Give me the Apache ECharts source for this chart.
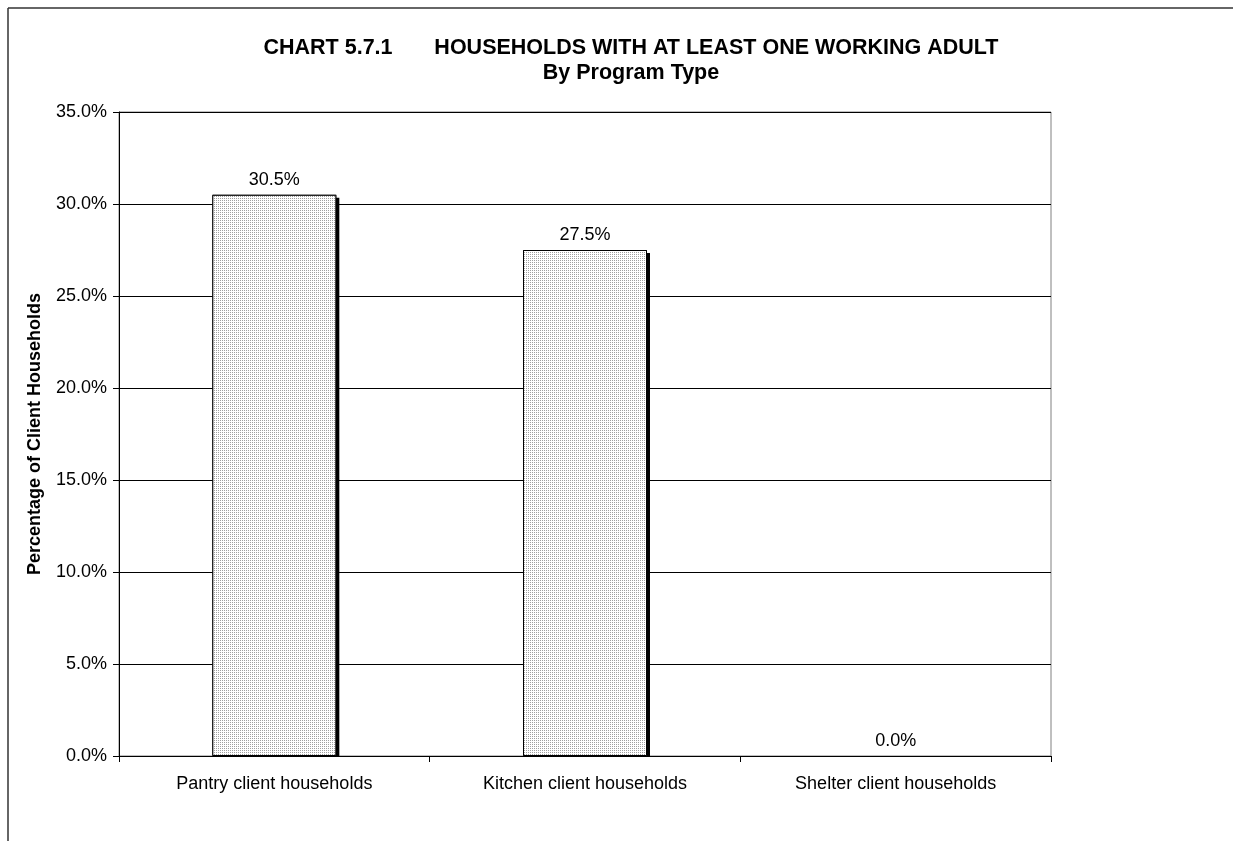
<!DOCTYPE html>
<html>
<head>
<meta charset="utf-8">
<script src="https://cdn.jsdelivr.net/npm/echarts@6/dist/echarts.min.js"></script>
<style>
html,body{margin:0;padding:0;background:#fff;}
#chart{width:1238px;height:841px;}
</style>
</head>
<body>
<div id="chart"></div>
<script>
const categories = ['Pantry client households', 'Kitchen client households', 'Shelter client households'];
const values = [30.5, 27.5, 0.0];
const yTicks = { min: 0, max: 35, interval: 5 };
const titleLine1 = 'CHART 5.7.1       HOUSEHOLDS WITH AT LEAST ONE WORKING ADULT';
const titleLine2 = 'By Program Type';
const yAxisTitle = 'Percentage of Client Households';

const FONT = "'Liberation Sans', Arial, sans-serif";

// dotted fill pattern
const pc = document.createElement('canvas');
pc.width = 2; pc.height = 2;
const pctx = pc.getContext('2d');
pctx.fillStyle = '#ffffff';
pctx.fillRect(0, 0, 2, 2);
pctx.fillStyle = '#a0a0a0';
pctx.fillRect(0, 0, 1, 1);

const hideZero = (v, style) => v === 0 ? { value: v, itemStyle: style } : v;

const chart = echarts.init(document.getElementById('chart'), null, { renderer: 'canvas' });
chart.setOption({
  backgroundColor: '#ffffff',
  animation: false,
  title: {
    text: titleLine1 + '\n' + titleLine2,
    left: 626,
    top: 31,
    textAlign: 'center',
    textStyle: { fontFamily: FONT, fontSize: 21.5, fontWeight: 'bold', color: '#000', lineHeight: 25 }
  },
  graphic: [
    { type: 'line', z: 100, shape: { x1: 8, y1: 8, x2: 1233, y2: 8 }, style: { stroke: '#333', lineWidth: 1.5 } },
    { type: 'line', z: 100, shape: { x1: 8, y1: 8, x2: 8, y2: 841 }, style: { stroke: '#333', lineWidth: 1.5 } },
    // mask shadow spill below the x axis
    { type: 'rect', z: 5, shape: { x: 120, y: 757, width: 930, height: 6 }, style: { fill: '#fff' } }
  ],
  grid: {
    left: 119, right: 187, top: 112, bottom: 85,
    show: true, borderColor: '#808080', borderWidth: 1, backgroundColor: 'transparent'
  },
  xAxis: {
    type: 'category',
    z: 10,
    data: categories,
    axisLine: { lineStyle: { color: '#000', width: 1 } },
    axisTick: { show: true, length: 6, inside: false, alignWithLabel: false, lineStyle: { color: '#000' } },
    axisLabel: { fontFamily: FONT, fontSize: 18, color: '#000', margin: 19 },
    splitLine: { show: false }
  },
  yAxis: {
    type: 'value',
    min: yTicks.min, max: yTicks.max, interval: yTicks.interval,
    name: yAxisTitle,
    nameLocation: 'middle',
    nameGap: 75,
    nameRotate: 90,
    nameTextStyle: { fontFamily: FONT, fontSize: 18, fontWeight: 'bold', color: '#000' },
    axisLine: { show: true, lineStyle: { color: '#000', width: 1 } },
    axisTick: { show: true, length: 6, lineStyle: { color: '#000' } },
    axisLabel: {
      fontFamily: FONT, fontSize: 18, color: '#000', margin: 12,
      formatter: v => v.toFixed(1) + '%'
    },
    splitLine: { show: true, lineStyle: { color: '#000', width: 1 } }
  },
  series: [
    {
      // shadow body
      type: 'bar',
      z: 2,
      data: values.map(v => hideZero(v, { opacity: 0 })),
      barWidth: 124,
      silent: true,
      itemStyle: {
        color: '#000',
        shadowColor: '#000',
        shadowBlur: 0,
        shadowOffsetX: 3,
        shadowOffsetY: 3
      },
      label: { show: false }
    },
    {
      type: 'bar',
      z: 3,
      barGap: '-100%',
      data: values.map(v => hideZero(v, { borderWidth: 0 })),
      barWidth: 124,
      itemStyle: {
        color: { image: pc, repeat: 'repeat' },
        borderColor: '#000',
        borderWidth: 1
      },
      label: {
        show: true,
        position: 'top',
        distance: 6,
        fontFamily: FONT, fontSize: 18, color: '#000',
        formatter: p => Number(p.value).toFixed(1) + '%'
      }
    }
  ]
});
</script>
</body>
</html>
